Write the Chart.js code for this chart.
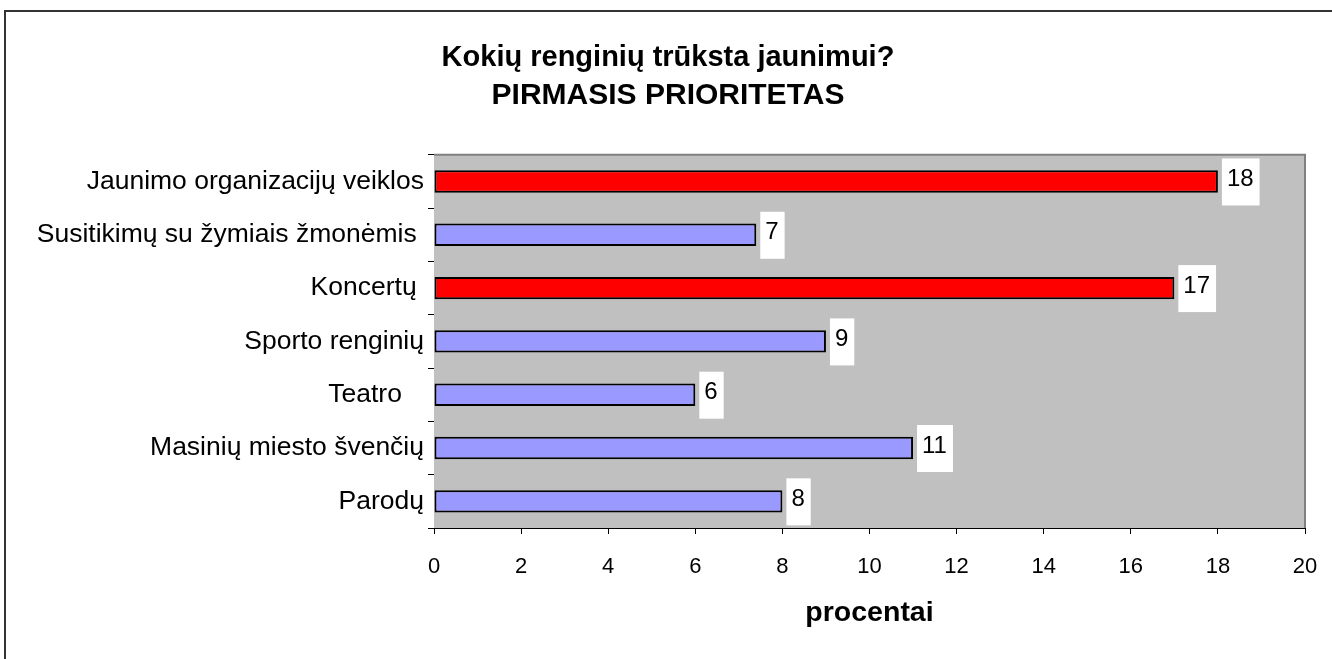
<!DOCTYPE html>
<html><head><meta charset="utf-8">
<script src="https://cdn.jsdelivr.net/npm/chart.js@4/dist/chart.umd.min.js"></script>
<style>
html,body{margin:0;padding:0;background:#fff;width:1332px;height:659px;overflow:hidden;}
#frame{position:absolute;left:4px;top:10px;width:1400px;height:700px;border-left:2px solid #333;border-top:2px solid #333;}
#wrap{position:absolute;left:0;top:0;width:1332px;height:659px;}
</style></head><body>
<div id="frame"></div>
<div id="wrap"><canvas id="c" width="1332" height="659"></canvas></div>
<script>
const titleText = 'Kokių renginių trūksta jaunimui?';
const subtitleText = 'PIRMASIS PRIORITETAS';
const axisTitle = 'procentai';
const categories = ['Jaunimo organizacijų veiklos', 'Susitikimų su žymiais žmonėmis ', 'Koncertų ', 'Sporto renginių', 'Teatro   ', 'Masinių miesto švenčių', 'Parodų'];
const values = [18, 7.4, 17, 9, 6, 11, 8];
const valueLabels = ['18', '7', '17', '9', '6', '11', '8'];
const highlighted = [true, false, true, false, false, false, false];
const xMin = 0, xMax = 20, xStep = 2;

const FONT = "'Liberation Sans', Arial, sans-serif";

const plotBg = {
  id: 'plotBg',
  beforeDatasetsDraw(chart) {
    const {ctx, chartArea: a} = chart;
    ctx.save();
    ctx.fillStyle = '#C0C0C0';
    ctx.fillRect(a.left, a.top, a.right - a.left, a.bottom - a.top);
    ctx.strokeStyle = '#808080';
    ctx.lineWidth = 2;
    ctx.beginPath();
    ctx.moveTo(a.left, a.top);
    ctx.lineTo(a.right, a.top);
    ctx.lineTo(a.right, a.bottom);
    ctx.stroke();
    ctx.restore();
  }
};

const valueBoxes = {
  id: 'valueBoxes',
  afterDatasetsDraw(chart) {
    const {ctx} = chart;
    const meta = chart.getDatasetMeta(0);
    ctx.save();
    ctx.font = '24px ' + FONT;
    ctx.textBaseline = 'middle';
    ctx.textAlign = 'left';
    meta.data.forEach((bar, i) => {
      const txt = valueLabels[i];
      const w = ctx.measureText(txt).width;
      const bx = bar.x + 4;
      const by = bar.y - 23;
      ctx.fillStyle = '#FFFFFF';
      ctx.fillRect(bx, by, w + 11, 47);
      ctx.fillStyle = '#000';
      ctx.fillText(txt, bx + 5, bar.y - 2);
    });
    ctx.restore();
  }
};

new Chart(document.getElementById('c'), {
  type: 'bar',
  data: {
    labels: categories,
    datasets: [{
      data: values,
      backgroundColor: highlighted.map(h => h ? '#FF0000' : '#9999FF'),
      borderColor: '#000',
      borderWidth: 2,
      borderSkipped: false,
      categoryPercentage: 1,
      barPercentage: 0.42
    }]
  },
  options: {
    indexAxis: 'y',
    responsive: false,
    animation: false,
    devicePixelRatio: 1,
    layout: {padding: {left: 31, right: 27, top: 0, bottom: 0}},
    plugins: {
      legend: {display: false},
      tooltip: {enabled: false},
      title: {display: true, text: titleText, color: '#000',
        font: {family: FONT, size: 29, weight: 'bold', lineHeight: 1.2}, padding: {top: 41, bottom: 2}},
      subtitle: {display: true, text: subtitleText, color: '#000',
        font: {family: FONT, size: 30, weight: 'bold', lineHeight: 1.2}, padding: {top: 0, bottom: 41}}
    },
    scales: {
      x: {
        min: xMin, max: xMax,
        ticks: {stepSize: xStep, color: '#000', font: {family: FONT, size: 22}, padding: 20},
        grid: {drawOnChartArea: false, drawTicks: true, tickLength: 6, color: '#000'},
        border: {color: '#000', width: 1},
        title: {display: true, text: axisTitle, color: '#000', font: {family: FONT, size: 28.5, weight: 'bold', lineHeight: 1.2}, padding: {top: 10, bottom: 29}},
        afterFit(scale) { scale.height = 131; scale.paddingLeft = 0; scale.paddingRight = 0; }
      },
      y: {
        ticks: {color: '#000', font: {family: FONT, size: 26.5}, padding: 4},
        grid: {offset: true, drawOnChartArea: false, drawTicks: true, tickLength: 6, color: '#000'},
        border: {color: '#000', width: 1},
        afterFit(scale) { scale.width = 403; }
      }
    }
  },
  plugins: [plotBg, valueBoxes]
});
</script>
</body></html>
